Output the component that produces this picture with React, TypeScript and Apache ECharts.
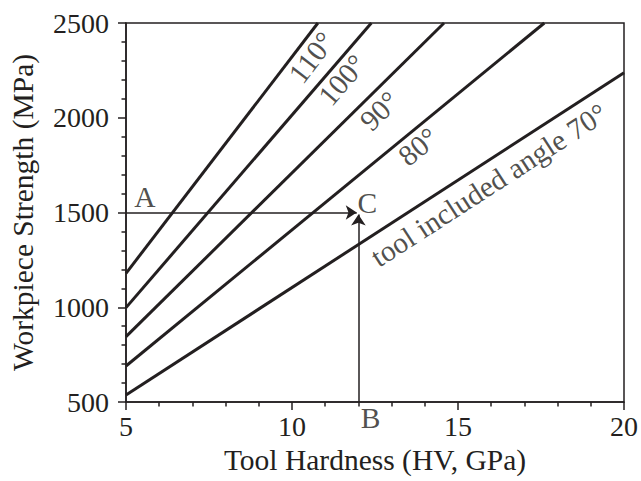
import React, { useEffect, useRef } from "react";
import * as echarts from "echarts";

// ---- data ----
const angleNames = ["70°", "80°", "90°", "100°", "110°"];
// each line: [x, y] start (at tool hardness 5) and end point
const line70 = [[5, 537], [20, 2238]];
const line80 = [[5, 690], [17.6, 2500]];
const line90 = [[5, 845], [14.58, 2500]];
const line100 = [[5, 998], [12.39, 2500]];
const line110 = [[5, 1179], [10.78, 2500]];
const lines = [line70, line80, line90, line100, line110];

// line label texts and anchor points (data coords)
const lineLabelTexts = ["tool included angle 70°", "80°", "90°", "100°", "110°"];
const lineLabelX = [15.93, 13.8, 12.63, 11.51, 10.59];
const lineLabelY = [1645, 1847, 2036, 2199, 2318];

// arrows A -> C and B -> C
const arrowAC = [[5, 1500], [11.95, 1500]];
const arrowBC = [[12, 500], [12, 1490]];

// point letters
const letterTexts = ["A", "B", "C"];
const letterX = [5.57, 12.37, 12.27];
const letterY = [1584, 500, 1548];

const xTicks = { min: 5, max: 20, interval: 5 };
const yTicks = { min: 500, max: 2500, interval: 500 };

const FONT = "Liberation Serif";
const INK = "#231f20";
const TICK_FS = 28;
const TEXT_FS = 29.5;

export default function App() {
  const ref = useRef<HTMLDivElement>(null);

  useEffect(() => {
    if (!ref.current) return;
    const chart = echarts.init(ref.current, undefined, { renderer: "svg" });

    const axisCommon = {
      type: "value" as const,
      splitLine: { show: false },
      axisLine: { show: true, onZero: false, lineStyle: { color: INK, width: 1.5 } },
      axisTick: { show: true, inside: false, length: 8, lineStyle: { color: INK, width: 1.5 } },
      minorTick: { show: true, splitNumber: 5, length: 4.5, lineStyle: { color: INK, width: 1.5 } },
      axisLabel: {
        fontFamily: FONT,
        fontSize: TICK_FS,
        color: INK,
        formatter: (v: number) => String(v),
      },
      nameTextStyle: { fontFamily: FONT, fontSize: TEXT_FS, color: INK },
      nameLocation: "middle" as const,
    };

    const buildLabelSeries = (rotations: number[]) => ({
      type: "scatter",
      symbolSize: 0,
      silent: true,
      z: 5,
      data: lineLabelTexts.map((t, i) => ({
        value: [lineLabelX[i], lineLabelY[i]],
        label: {
          show: true,
          position: "inside",
          formatter: t,
          rotate: rotations[i],
          fontFamily: FONT,
          fontSize: TEXT_FS,
          color: INK,
        },
      })),
    });

    const option: any = {
      animation: false,
      backgroundColor: "#ffffff",
      grid: {
        left: 125,
        right: 15,
        top: 23,
        bottom: 79,
        show: true,
        borderColor: INK,
        borderWidth: 1.5,
        backgroundColor: "transparent",
      },
      xAxis: {
        ...axisCommon,
        ...xTicks,
        name: "Tool Hardness (HV, GPa)",
        nameGap: 43,
        axisLabel: { ...axisCommon.axisLabel, margin: 10 },
      },
      yAxis: {
        ...axisCommon,
        ...yTicks,
        name: "Workpiece Strength (MPa)",
        nameGap: 88,
        axisLabel: { ...axisCommon.axisLabel, margin: 17 },
      },
      series: [
        ...lines.map((d, i) => ({
          type: "line",
          name: angleNames[i],
          data: d,
          symbol: "none",
          lineStyle: { color: INK, width: 3 },
          z: 3,
        })),
        {
          type: "lines",
          coordinateSystem: "cartesian2d",
          symbol: ["none", "arrow"],
          symbolSize: [7, 11],
          lineStyle: { color: INK, width: 1.5, opacity: 1 },
          data: [{ coords: arrowAC }, { coords: arrowBC }],
          z: 4,
        },
        {
          type: "scatter",
          symbolSize: 0,
          silent: true,
          z: 5,
          data: letterTexts.map((t, i) => ({
            value: [letterX[i], letterY[i]],
            label: {
              show: true,
              position: "inside",
              formatter: t,
              fontFamily: FONT,
              fontSize: TEXT_FS,
              color: INK,
              offset: t === "B" ? [0, 16] : [0, 0],
            },
          })),
        },
        buildLabelSeries(lineLabelTexts.map(() => 0)),
      ],
    };
    chart.setOption(option);

    // rotate each line label to follow its line's on-screen slope
    const rotations = lines.map((d) => {
      const p0 = chart.convertToPixel({ gridIndex: 0 }, d[0]) as number[];
      const p1 = chart.convertToPixel({ gridIndex: 0 }, d[1]) as number[];
      return (Math.atan2(p0[1] - p1[1], p1[0] - p0[0]) * 180) / Math.PI;
    });
    const series = option.series.slice();
    series[series.length - 1] = buildLabelSeries(rotations);
    chart.setOption({ series });

    return () => chart.dispose();
  }, []);

  return (
    <div
      ref={ref}
      style={{ position: "fixed", left: 0, top: 0, width: 641, height: 481 }}
    />
  );
}
